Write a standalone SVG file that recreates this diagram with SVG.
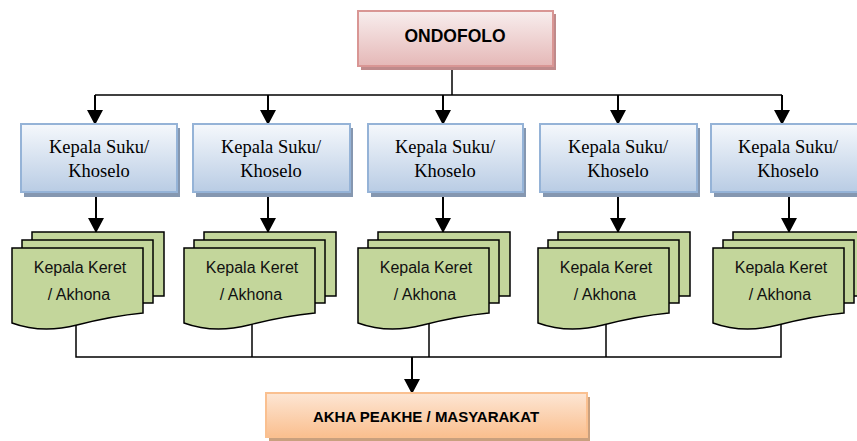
<svg xmlns="http://www.w3.org/2000/svg" xmlns:xlink="http://www.w3.org/1999/xlink" width="857" height="441" viewBox="0 0 857 441">
  <style>
    .line { fill: none; stroke: #000; stroke-width: 1.5; }
    .arrow { fill: none; stroke: #000; stroke-width: 2; marker-end: url(#head); }
    .head-box { fill: url(#pinkFill); stroke: #d99694; stroke-width: 2; }
    .head-shadow { fill: #bf8a8b; }
    .suku-box { fill: url(#blueFill); stroke: #95b3d7; stroke-width: 2; }
    .suku-shadow { fill: #8597b0; }
    .base-box { fill: url(#orangeFill); stroke: #fac090; stroke-width: 2; }
    .base-shadow { fill: #c9a07e; }
    .page { fill: #c3d69b; stroke: #000; stroke-width: 1.5; }
    .serif { font-family: "Liberation Serif", "Times New Roman", serif; font-size: 18.5px; fill: #000; text-anchor: middle; }
    .sans { font-family: "Liberation Sans", Arial, sans-serif; font-size: 16px; fill: #111; text-anchor: middle; }
    .bold { font-family: "Liberation Sans", Arial, sans-serif; font-weight: bold; fill: #000; text-anchor: middle; }
  </style>
  <defs>
    <linearGradient id="pinkFill" x1="0" y1="0" x2="0" y2="1">
      <stop offset="0" stop-color="#f8eeee"/>
      <stop offset="1" stop-color="#e5b8b7"/>
    </linearGradient>
    <linearGradient id="blueFill" x1="0" y1="0" x2="0" y2="1">
      <stop offset="0" stop-color="#f5f8fc"/>
      <stop offset="1" stop-color="#b9cce4"/>
    </linearGradient>
    <linearGradient id="orangeFill" x1="0" y1="0" x2="0" y2="1">
      <stop offset="0" stop-color="#fde6d4"/>
      <stop offset="1" stop-color="#fabf8f"/>
    </linearGradient>
    <marker id="head" markerUnits="userSpaceOnUse" markerWidth="16" markerHeight="16" refX="14" refY="8" orient="auto" viewBox="0 0 16 16">
      <path d="M0,0 L15,8 L0,16 z" fill="#000"/>
    </marker>
    <!-- stacked multi-page document shape, front page starts at x=0 -->
    <g id="stack">
      <rect class="page" x="20" y="232" width="132" height="64"/>
      <rect class="page" x="10" y="240" width="131" height="63"/>
      <path class="page" d="M0,248 H131 V313 Q100,316 65,325 Q30,334 0,323 Z"/>
    </g>
  </defs>

  <rect width="857" height="441" fill="#fff"/>

  <g id="connectors">
    <!-- top bus -->
    <path class="line" d="M452,66 V95"/>
    <path class="line" d="M95,95 H782"/>
    <path class="arrow" d="M95,95 V124"/>
    <path class="arrow" d="M268,95 V124"/>
    <path class="arrow" d="M443,95 V124"/>
    <path class="arrow" d="M618,95 V124"/>
    <path class="arrow" d="M782,95 V124"/>
    <!-- suku to keret -->
    <path class="arrow" d="M96,192 V232"/>
    <path class="arrow" d="M268,192 V232"/>
    <path class="arrow" d="M443,192 V232"/>
    <path class="arrow" d="M618,192 V232"/>
    <path class="arrow" d="M789,192 V232"/>
    <!-- bottom bus -->
    <path class="line" d="M76,320 V357 H781 V320"/>
    <path class="line" d="M252,320 V357"/>
    <path class="line" d="M429,320 V357"/>
    <path class="line" d="M606,320 V357"/>
    <path class="arrow" d="M412,357 V393"/>
  </g>

  <g id="ondofolo">
    <rect class="head-shadow" x="361" y="14" width="195" height="56"/>
    <rect class="head-box" x="358" y="11" width="195" height="55"/>
    <text class="bold" x="455" y="42" font-size="17.5">ONDOFOLO</text>
  </g>

  <g id="suku-1">
    <rect class="suku-shadow" x="24" y="128" width="156" height="69"/>
    <rect class="suku-box" x="21" y="124" width="156" height="68"/>
    <text class="serif" x="99" y="153">Kepala Suku/</text>
    <text class="serif" x="99" y="177">Khoselo</text>
  </g>
  <g id="suku-2">
    <rect class="suku-shadow" x="196" y="128" width="157" height="69"/>
    <rect class="suku-box" x="193" y="124" width="157" height="68"/>
    <text class="serif" x="271" y="153">Kepala Suku/</text>
    <text class="serif" x="271" y="177">Khoselo</text>
  </g>
  <g id="suku-3">
    <rect class="suku-shadow" x="371" y="128" width="155" height="69"/>
    <rect class="suku-box" x="368" y="124" width="155" height="68"/>
    <text class="serif" x="445" y="153">Kepala Suku/</text>
    <text class="serif" x="445" y="177">Khoselo</text>
  </g>
  <g id="suku-4">
    <rect class="suku-shadow" x="543" y="128" width="157" height="69"/>
    <rect class="suku-box" x="540" y="124" width="157" height="68"/>
    <text class="serif" x="618" y="153">Kepala Suku/</text>
    <text class="serif" x="618" y="177">Khoselo</text>
  </g>
  <g id="suku-5">
    <rect class="suku-shadow" x="714" y="128" width="156" height="69"/>
    <rect class="suku-box" x="711" y="124" width="156" height="68"/>
    <text class="serif" x="788" y="153">Kepala Suku/</text>
    <text class="serif" x="788" y="177">Khoselo</text>
  </g>

  <g id="keret-1" transform="translate(12,0)">
    <use xlink:href="#stack"/>
    <text class="sans" x="68" y="273">Kepala Keret</text>
    <text class="sans" x="67" y="300">/ Akhona</text>
  </g>
  <g id="keret-2" transform="translate(184,0)">
    <use xlink:href="#stack"/>
    <text class="sans" x="68" y="273">Kepala Keret</text>
    <text class="sans" x="67" y="300">/ Akhona</text>
  </g>
  <g id="keret-3" transform="translate(358,0)">
    <use xlink:href="#stack"/>
    <text class="sans" x="68" y="273">Kepala Keret</text>
    <text class="sans" x="67" y="300">/ Akhona</text>
  </g>
  <g id="keret-4" transform="translate(538,0)">
    <use xlink:href="#stack"/>
    <text class="sans" x="68" y="273">Kepala Keret</text>
    <text class="sans" x="67" y="300">/ Akhona</text>
  </g>
  <g id="keret-5" transform="translate(713,0)">
    <use xlink:href="#stack"/>
    <text class="sans" x="68" y="273">Kepala Keret</text>
    <text class="sans" x="67" y="300">/ Akhona</text>
  </g>

  <g id="masyarakat">
    <rect class="base-shadow" x="269" y="397" width="321" height="44"/>
    <rect class="base-box" x="266" y="393" width="321" height="44"/>
    <text class="bold" x="426" y="422" font-size="15">AKHA PEAKHE / MASYARAKAT</text>
  </g>
</svg>
